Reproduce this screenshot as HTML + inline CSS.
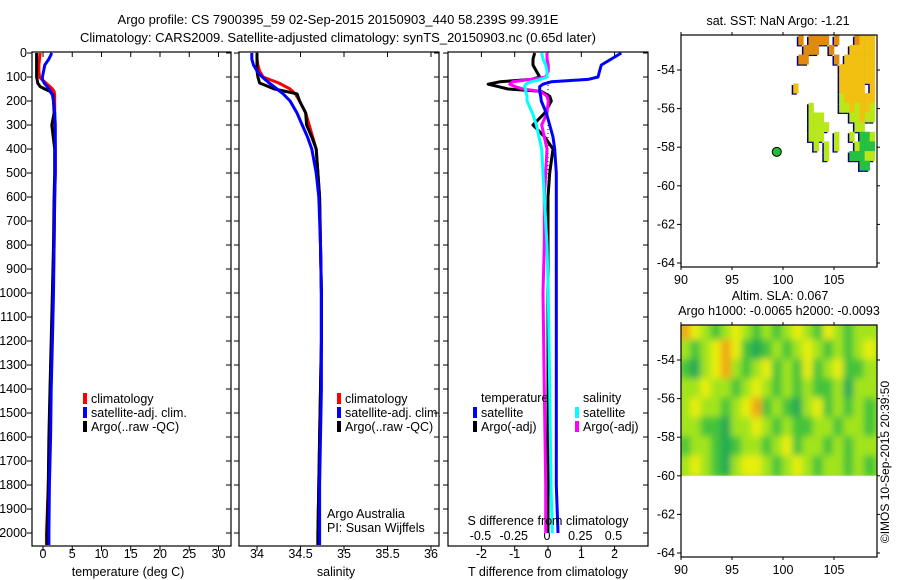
<!DOCTYPE html>
<html><head><meta charset="utf-8"><style>
html,body{margin:0;padding:0;background:#fff;}
svg{display:block;font-family:"Liberation Sans",sans-serif;font-size:12.5px;}
</style></head><body>
<svg id="chart" width="900" height="580" viewBox="0 0 900 580" xmlns="http://www.w3.org/2000/svg">
<text x="338" y="24" text-anchor="middle" font-size="13">Argo profile: CS 7900395_59 02-Sep-2015 20150903_440 58.239S 99.391E</text>
<text x="338" y="42" text-anchor="middle" font-size="13">Climatology: CARS2009. Satellite-adjusted climatology: synTS_20150903.nc (0.65d later)</text>
<g id="p1"></g><g id="p2"></g><g id="p3"></g><g id="m1"></g><g id="m2"></g>
<text transform="translate(889,462) rotate(-90)" text-anchor="middle" font-size="12">©IMOS 10-Sep-2015 20:39:50</text>
</svg>
<script>
// ---- data ----
const depthT = [0,25,50,75,100,110,125,140,150,160,175,200,250,300,400,500,600,800,1000,1200,1400,1600,1800,2000,2050];
const tempClim = [-0.5,-0.6,-0.7,-0.7,-0.6,-0.2,0.5,1.2,1.6,1.9,2.0,2.0,2.0,2.0,2.1,2.1,2.0,1.9,1.7,1.5,1.3,1.1,0.9,0.6,0.6];
const tempSat  = [1.5,1.0,0.3,0.1,-0.1,-0.1,0.2,0.7,1.0,1.3,1.6,1.8,2.0,2.1,2.1,2.1,2.0,1.9,1.8,1.6,1.4,1.3,1.1,1.0,1.0];
const tempArgo = [-1.1,-1.1,-1.1,-1.1,-1.1,-1.0,-0.9,-0.5,0.3,1.2,1.7,1.8,1.9,1.5,2.0,2.0,1.9,1.8,1.6,1.4,1.2,1.0,0.9,0.7,0.7];
const depthS = [0,25,50,75,100,125,150,170,200,250,300,350,400,500,600,800,1000,1200,1400,1600,1800,2000,2050];
const salClim = [34.0,34.0,34.01,34.03,34.07,34.25,34.38,34.44,34.49,34.56,34.6,34.64,34.68,34.7,34.72,34.73,34.74,34.74,34.73,34.72,34.71,34.7,34.7];
const salSat  = [33.94,33.94,33.96,34.0,34.06,34.14,34.23,34.3,34.38,34.46,34.52,34.58,34.63,34.68,34.71,34.73,34.74,34.74,34.74,34.73,34.72,34.72,34.72];
const salArgo = [34.0,34.0,34.0,34.0,34.01,34.03,34.2,34.46,34.49,34.56,34.57,34.63,34.68,34.7,34.72,34.73,34.74,34.74,34.73,34.72,34.71,34.7,34.7];
const depthD = [0,25,50,75,100,110,120,130,140,150,160,180,200,250,300,350,400,500,600,800,1000,1400,1800,2000];
const dTsat  = [2.2,1.9,1.6,1.55,1.5,1.2,0.1,-0.15,-0.25,-0.25,-0.25,-0.22,-0.2,-0.05,0.05,0.15,0.2,0.25,0.25,0.25,0.25,0.25,0.25,0.3];
const dTargo = [-0.4,-0.45,-0.45,-0.35,-0.25,-0.5,-1.45,-1.8,-1.5,-1.2,-0.2,0.05,0.1,-0.1,-0.45,-0.1,0.15,0.05,0.0,0.0,0.0,0.0,0.0,0.0];
const dSsat  = [-0.04,-0.03,-0.01,0.0,0.0,-0.05,-0.12,-0.16,-0.17,-0.16,-0.16,-0.15,-0.15,-0.11,-0.08,-0.06,-0.04,-0.03,-0.02,0.0,0.01,0.02,0.03,0.04];
const dSargo = [0.0,0.0,0.01,0.01,-0.01,-0.12,-0.26,-0.28,-0.24,-0.18,-0.05,0.0,0.01,0.0,-0.04,-0.02,0.0,-0.01,-0.02,-0.02,-0.03,-0.02,-0.01,-0.01];
const depthTicks = [0,100,200,300,400,500,600,700,800,900,1000,1100,1200,1300,1400,1500,1600,1700,1800,1900,2000];
const tempTicks = [0,5,10,15,20,25,30];
const salTicks = [34,34.5,35,35.5,36];
const tdTicks = [-2,-1,0,1,2];
const sdTicks = [-0.5,-0.25,0,0.25,0.5];
const sdTickLabels = ["-0.5","-0.25","0","0.25","0.5"];
const lonTicks = [90,95,100,105];
const latTicks = [-54,-56,-58,-60,-62,-64];
const argoLon = 99.39, argoLat = -58.24;
const sstRows = [
"...o.oooo.o...oyyy",
"....ooo..o...yyyyy",
"...oo.....o.yyyyyy",
"...........yyyyyyy",
"...........yyyyyyy",
"..y........yyyyy.y",
"...........lyyyyyy",
".....l.....llylyyl",
".....lll.....llyll",
".....llll.....ll..",
".....lll..l..l.ggl",
"......l.l.l...lggg",
"........l....gggll",
"...............gg."];
const slaGrid = [
[4,3,2,1,2,3,2,1,2,1,2,3,2,1,3,2,1,2,2],
[2,1,2,3,4,3,1,0,1,2,1,2,3,2,1,2,1,2,3],
[1,0,2,3,4,2,1,2,3,1,2,1,3,1,2,3,1,1,2],
[2,2,3,2,2,1,2,3,2,1,2,1,2,1,1,2,0,2,2],
[2,3,2,2,1,2,3,4,1,2,1,0,2,3,1,2,1,2,1],
[2,2,1,1,0,2,2,3,2,1,2,1,1,2,2,1,2,2,1],
[1,2,2,1,0,1,2,2,1,2,3,1,2,2,1,2,1,2,2],
[2,3,2,1,0,2,3,3,2,1,2,3,2,1,2,2,1,2,1]];

const NS="http://www.w3.org/2000/svg";
function mk(parent,tag,attrs,txt){const e=document.createElementNS(NS,tag);for(const k in attrs)e.setAttribute(k,attrs[k]);if(txt!==undefined)e.textContent=txt;parent.appendChild(e);return e;}
const yD = d => 53 + d*0.24;
const TOP=53-1, BOT=546;

function frame(g,x0,x1){
  const r=mk(g,'rect',{x:x0,y:TOP,width:x1-x0,height:BOT-TOP,fill:'none',stroke:'#000','stroke-width':1.2});
  
  
}
function depthAxis(g,x0,x1,labels){
  depthTicks.forEach(d=>{
    const y=yD(d);
    mk(g,'line',{x1:x0-5,x2:x0,y1:y,y2:y,stroke:'#000'});
    mk(g,'line',{x1:x1-5,x2:x1,y1:y,y2:y,stroke:'#000'});
    if(labels){const t=mk(g,'text',{x:x0-5,y:y+4,'text-anchor':'end'},String(d));
      
      }
  });
}
function xTicks(g,ticks,sx,yl,labelsArr){
  ticks.forEach((v,i)=>{
    const x=sx(v);
    mk(g,'line',{x1:x,x2:x,y1:TOP,y2:TOP+5,stroke:'#000'});
    mk(g,'line',{x1:x,x2:x,y1:BOT,y2:BOT+5,stroke:'#000'});
    if(yl){const t=mk(g,'text',{x:x,y:yl,'text-anchor':'middle'},labelsArr?labelsArr[i]:String(v));
      
      }
  });
}
function line(g,xs,ds,sx,col,name,w){
  const p=xs.map((v,i)=>(i?'L':'M')+sx(v).toFixed(1)+','+yD(ds[i]).toFixed(1)).join('');
  const e=mk(g,'path',{d:p,fill:'none',stroke:col,'stroke-width':w||3,'stroke-linejoin':'round'});
  
  
}
function legItem(g,x,y,col,txt,name){
  mk(g,'rect',{x:x,y:y-10,width:4,height:11,fill:col});
  const t=mk(g,'text',{x:x+8,y:y},txt);
  
  
}

(function(){
  const g=document.getElementById('p1');
  
  
  const sx=v=>43+v*5.85;
  frame(g,32,231); depthAxis(g,32,231,true); xTicks(g,tempTicks,sx,558);
  line(g,tempClim,depthT,sx,'#f00','temp-climatology-line');
  line(g,tempArgo,depthT,sx,'#000','temp-argo-line');
  line(g,tempSat,depthT,sx,'#00f','temp-satellite-line');
  const t=mk(g,'text',{x:128,y:576,'text-anchor':'middle'},'temperature (deg C)');
  
  
  legItem(g,83,403,'#f00','climatology','legend-climatology');
  legItem(g,83,417,'#00f','satellite-adj. clim.','legend-satellite');
  legItem(g,83,431,'#000','Argo(..raw -QC)','legend-argo');
})();
(function(){
  const g=document.getElementById('p2');
  
  
  const sx=v=>257+(v-34)*87;
  frame(g,239,439); depthAxis(g,239,439,false); xTicks(g,salTicks,sx,558);
  line(g,salClim,depthS,sx,'#f00','sal-climatology-line');
  line(g,salArgo,depthS,sx,'#000','sal-argo-line');
  line(g,salSat,depthS,sx,'#00f','sal-satellite-line');
  const t=mk(g,'text',{x:336,y:576,'text-anchor':'middle'},'salinity');
  
  
  legItem(g,337,403,'#f00','climatology','legend-climatology');
  legItem(g,337,417,'#00f','satellite-adj. clim.','legend-satellite');
  legItem(g,337,431,'#000','Argo(..raw -QC)','legend-argo');
  const a=mk(g,'text',{x:327,y:518},'Argo Australia');
  
  
  const b=mk(g,'text',{x:327,y:532},'PI: Susan Wijffels');
  
  
})();
(function(){
  const g=document.getElementById('p3');
  
  
  const sxT=v=>548+v*33.3, sxS=v=>547+v*133;
  frame(g,448,648); depthAxis(g,448,648,false); xTicks(g,tdTicks,sxT,558);
  sdTicks.forEach((v,i)=>{const t=mk(g,'text',{x:sxS(v),y:540,'text-anchor':'middle'},sdTickLabels[i]);
    
    });
  mk(g,'line',{x1:548,x2:548,y1:yD(0),y2:yD(2000),stroke:'#000','stroke-dasharray':'1,3'});
  line(g,dTargo,depthD,sxT,'#000','tdiff-argo-line');
  line(g,dSargo,depthD,sxS,'#f0f','sdiff-argo-line');
  line(g,dTsat,depthD,sxT,'#00f','tdiff-satellite-line');
  line(g,dSsat,depthD,sxS,'#0ff','sdiff-satellite-line');
  const t1=mk(g,'text',{x:548,y:525,'text-anchor':'middle'},'S difference from climatology');
  
  
  const t2=mk(g,'text',{x:548,y:576,'text-anchor':'middle'},'T difference from climatology');
  
  
  const h1=mk(g,'text',{x:481,y:402},'temperature');
  
  
  const h2=mk(g,'text',{x:583,y:402},'salinity');
  
  
  legItem(g,473,417,'#00f','satellite','legend-t-satellite');
  legItem(g,473,431,'#000','Argo(-adj)','legend-t-argo');
  legItem(g,575,417,'#0ff','satellite','legend-s-satellite');
  legItem(g,575,431,'#f0f','Argo(-adj)','legend-s-argo');
})();
function mapAxes(g,top,bot,latAt){
  const sx=v=>681+(v-90)*10.2;
  const r=mk(g,'rect',{x:681,y:top,width:196,height:bot-top,fill:'none',stroke:'#000','stroke-width':1.2});
  
  
  lonTicks.forEach(v=>{const x=sx(v);
    mk(g,'line',{x1:x,x2:x,y1:top-3,y2:top,stroke:'#000'});
    mk(g,'line',{x1:x,x2:x,y1:bot,y2:bot+3,stroke:'#000'});
    const t=mk(g,'text',{x:x,y:bot+17,'text-anchor':'middle'},String(v));
    
    });
  latTicks.forEach(v=>{const y=latAt(v);
    mk(g,'line',{x1:677,x2:681,y1:y,y2:y,stroke:'#000'});
    mk(g,'line',{x1:877,x2:880,y1:y,y2:y,stroke:'#000'});
    const t=mk(g,'text',{x:675,y:y+4,'text-anchor':'end'},String(v));
    
    });
}
(function(){
  const g=document.getElementById('m1');
  
  
  const sx=v=>681+(v-90)*10.2, sy=v=>70+(-54-v)*19.3;
  const col={o:'#e08a10',y:'#f2c010',l:'#b8e81a',g:'#28c040'};
  sstRows.forEach((row,ri)=>{
    for(let ci=0;ci<row.length;ci++){const c=row[ci]; if(c==='.')continue;
      const x=sx(100+ci*0.5), y=sy(-52.2-ri*0.5), w=10.2*0.5, h=19.3*0.5;
      mk(g,'rect',{x:x-1.5,y:y+1.5,width:w,height:h,fill:'#00007a'});
    }});
  sstRows.forEach((row,ri)=>{
    for(let ci=0;ci<row.length;ci++){const c=row[ci]; if(c==='.')continue;
      const x=sx(100+ci*0.5), y=sy(-52.2-ri*0.5);
      const r=mk(g,'rect',{x:x,y:y,width:10.2*0.5+0.3,height:19.3*0.5+0.3,fill:col[c]});
      
      
    }});
  mk(g,'rect',{x:878,y:0,width:22,height:270,fill:'#fff'});
  mk(g,'rect',{x:680,y:20,width:200,height:15,fill:'#fff'});
  const dot=mk(g,'circle',{cx:sx(argoLon),cy:sy(argoLat),r:4.5,fill:'#22bb33',stroke:'#000','stroke-width':1});
  
  
  mapAxes(g,35,267,sy);
  const t=mk(g,'text',{x:778,y:25,'text-anchor':'middle'},'sat. SST: NaN Argo: -1.21');
  
  
})();
(function(){
  const g=document.getElementById('m2');
  
  
  const sx=v=>681+(v-90)*10.2, sy=v=>360+(-54-v)*19.3;
  const pal=['#22aa55','#44c43a','#a2e41e','#e8ee10','#f0a818'];
  const defs=mk(g,'defs',{});
  const cp=mk(defs,'clipPath',{id:'slaclip'});
  mk(cp,'rect',{x:681,y:325,width:196,height:sy(-60)-325});
  const f=mk(defs,'filter',{id:'blr',x:'-10%',y:'-10%',width:'120%',height:'120%'});
  mk(f,'feGaussianBlur',{stdDeviation:'3.5'});
  const gc=mk(g,'g',{'clip-path':'url(#slaclip)'});
  mk(gc,'rect',{x:681,y:325,width:196,height:sy(-60)-325,fill:pal[2]});
  const gb=mk(gc,'g',{filter:'url(#blr)'});
  slaGrid.forEach((row,ri)=>{
    row.forEach((v,ci)=>{
      const y1=sy(ri===0?-51.6:(-53-(ri-1))), y2=sy(-53-ri);
      const r=mk(gb,'rect',{x:sx(90+ci)-1,y:y1-1,width:12.2,height:y2-y1+2,fill:pal[v]});
      
      
    });
  });
  mapAxes(g,325,557,sy);
  const t=mk(g,'text',{x:780,y:300,'text-anchor':'middle'},'Altim. SLA: 0.067');
  
  
  const t2=mk(g,'text',{x:779,y:315,'text-anchor':'middle'},'Argo h1000: -0.0065 h2000: -0.0093');
  
  
})();
</script>
</body></html>
